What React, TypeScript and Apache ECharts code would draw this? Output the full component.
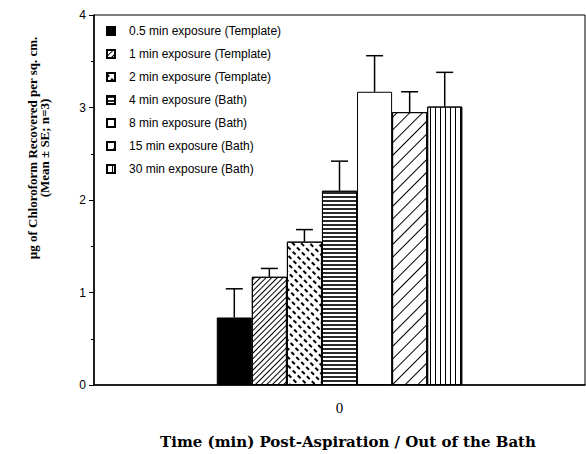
import React, { useEffect, useRef } from "react";
import * as echarts from "echarts";

const categories = ["0"];
const seriesNames = [
  "0.5 min exposure (Template)",
  "1 min exposure (Template)",
  "2 min exposure (Template)",
  "4 min exposure (Bath)",
  "8 min exposure (Bath)",
  "15 min exposure (Bath)",
  "30 min exposure (Bath)",
];
const means = [0.73, 1.17, 1.55, 2.1, 3.17, 2.95, 3.01];
const errors = [0.31, 0.09, 0.13, 0.32, 0.39, 0.22, 0.37];
const yTicks = [0, 1, 2, 3, 4];

const BLACK = "#000";

const styles: any[] = [
  { color: "#000" },
  {
    color: "#fff",
    decal: { symbol: "rect", symbolSize: 1, color: BLACK, dashArrayX: [1, 0], dashArrayY: [1, 2.2], rotation: -Math.PI / 4 },
  },
  {
    color: "#fff",
    decal: { symbol: "rect", symbolSize: 1, color: BLACK, dashArrayX: [[3.5, 3]], dashArrayY: [1.2, 3.5], rotation: Math.PI / 4 },
  },
  {
    color: "#fff",
    decal: { symbol: "rect", symbolSize: 1, color: "#2a2a2a", dashArrayX: [1, 0], dashArrayY: [1.5, 1.2], rotation: 0 },
  },
  { color: "#fff" },
  {
    color: "#fff",
    decal: { symbol: "rect", symbolSize: 1, color: BLACK, dashArrayX: [1, 0], dashArrayY: [1, 8], rotation: -Math.PI / 4 },
  },
  {
    color: "#fff",
    decal: { symbol: "rect", symbolSize: 1, color: BLACK, dashArrayX: [1, 4], dashArrayY: [1, 0], rotation: 0 },
  },
];

export default function App() {
  const ref = useRef<HTMLDivElement>(null);
  useEffect(() => {
    if (!ref.current) return;
    const chart = echarts.init(ref.current, undefined, { renderer: "svg" });
    const n = seriesNames.length;
    const barSeries = seriesNames.map((name, i) => ({
      name,
      type: "bar",
      data: [means[i]],
      barGap: "0%",
      barCategoryGap: "50%",
      itemStyle: {
        color: styles[i].color,
        decal: styles[i].decal,
        borderColor: BLACK,
        borderWidth: 1,
      },
    }));
    const errData = means.map((m, i) => [0, m, m + errors[i], i]);
    const errSeries = {
      type: "custom",
      name: "err",
      data: errData,
      z: 10,
      renderItem: (params: any, api: any) => {
        const idx = api.value(3);
        const base = api.coord([0, api.value(1)]);
        const top = api.coord([0, api.value(2)]);
        const band = api.size([1, 0])[0];
        const barW = (band * 0.5) / n;
        const cx = base[0] + (idx - (n - 1) / 2) * barW;
        const hw = 8.5;
        const st = { stroke: BLACK, lineWidth: 1.5 };
        return {
          type: "group",
          children: [
            { type: "line", shape: { x1: cx, y1: base[1], x2: cx, y2: top[1] }, style: st },
            { type: "line", shape: { x1: cx - hw, y1: top[1], x2: cx + hw, y2: top[1] }, style: st },
          ],
        };
      },
    };
    chart.setOption({
      animation: false,
      backgroundColor: "#fff",
      grid: { left: 94, right: 1, top: 15, bottom: 69, show: true, borderColor: BLACK, borderWidth: 1 },
      legend: {
        data: seriesNames.map((s) => ({ name: s, icon: "rect" })),
        orient: "vertical",
        left: 101,
        top: 20,
        itemWidth: 8,
        itemHeight: 8,
        itemGap: 11,
        textStyle: {
          fontFamily: "Liberation Sans, Arial",
          fontSize: 12,
          color: BLACK,
          padding: [0, 0, 0, 9],
        },
        selectedMode: false,
      },
      xAxis: {
        type: "category",
        data: categories,
        axisLine: { lineStyle: { color: BLACK, width: 1.5 } },
        axisTick: { show: false },
        axisLabel: { fontFamily: "Liberation Serif, Times New Roman", fontSize: 15, color: BLACK, margin: 15 },
      },
      yAxis: {
        type: "value",
        min: yTicks[0],
        max: yTicks[yTicks.length - 1],
        interval: 1,
        axisLine: { show: true, lineStyle: { color: BLACK, width: 1.5 } },
        axisTick: { show: true, length: 5, lineStyle: { color: BLACK, width: 1 } },
        minorTick: { show: true, splitNumber: 2, length: 3, lineStyle: { color: BLACK, width: 1 } },
        splitLine: { show: false },
        axisLabel: { fontFamily: "Liberation Sans, Arial", fontSize: 12, color: BLACK, margin: 8 },
      },
      graphic: [
        {
          type: "text",
          x: 32,
          y: 148,
          rotation: Math.PI / 2,
          style: {
            text: "µg of Chloroform Recovered per sq. cm.",
            font: "bold 13px 'Liberation Serif', 'Times New Roman', serif",
            fill: BLACK,
            textAlign: "center",
            textVerticalAlign: "middle",
          },
        },
        {
          type: "text",
          x: 44,
          y: 148,
          rotation: Math.PI / 2,
          style: {
            text: "(Mean ± SE; n=3)",
            font: "bold 13px 'Liberation Serif', 'Times New Roman', serif",
            fill: BLACK,
            textAlign: "center",
            textVerticalAlign: "middle",
          },
        },
        {
          type: "text",
          x: 348,
          y: 442,
          style: {
            text: "Time (min) Post-Aspiration / Out of the Bath",
            font: "bold 15px 'DejaVu Serif', serif",
            fill: BLACK,
            textAlign: "center",
            textVerticalAlign: "middle",
          },
        },
      ],
      series: [...barSeries, errSeries],
    });
    return () => chart.dispose();
  }, []);
  return <div ref={ref} style={{ width: 586, height: 454, position: "absolute", left: 0, top: 0 }} />;
}
